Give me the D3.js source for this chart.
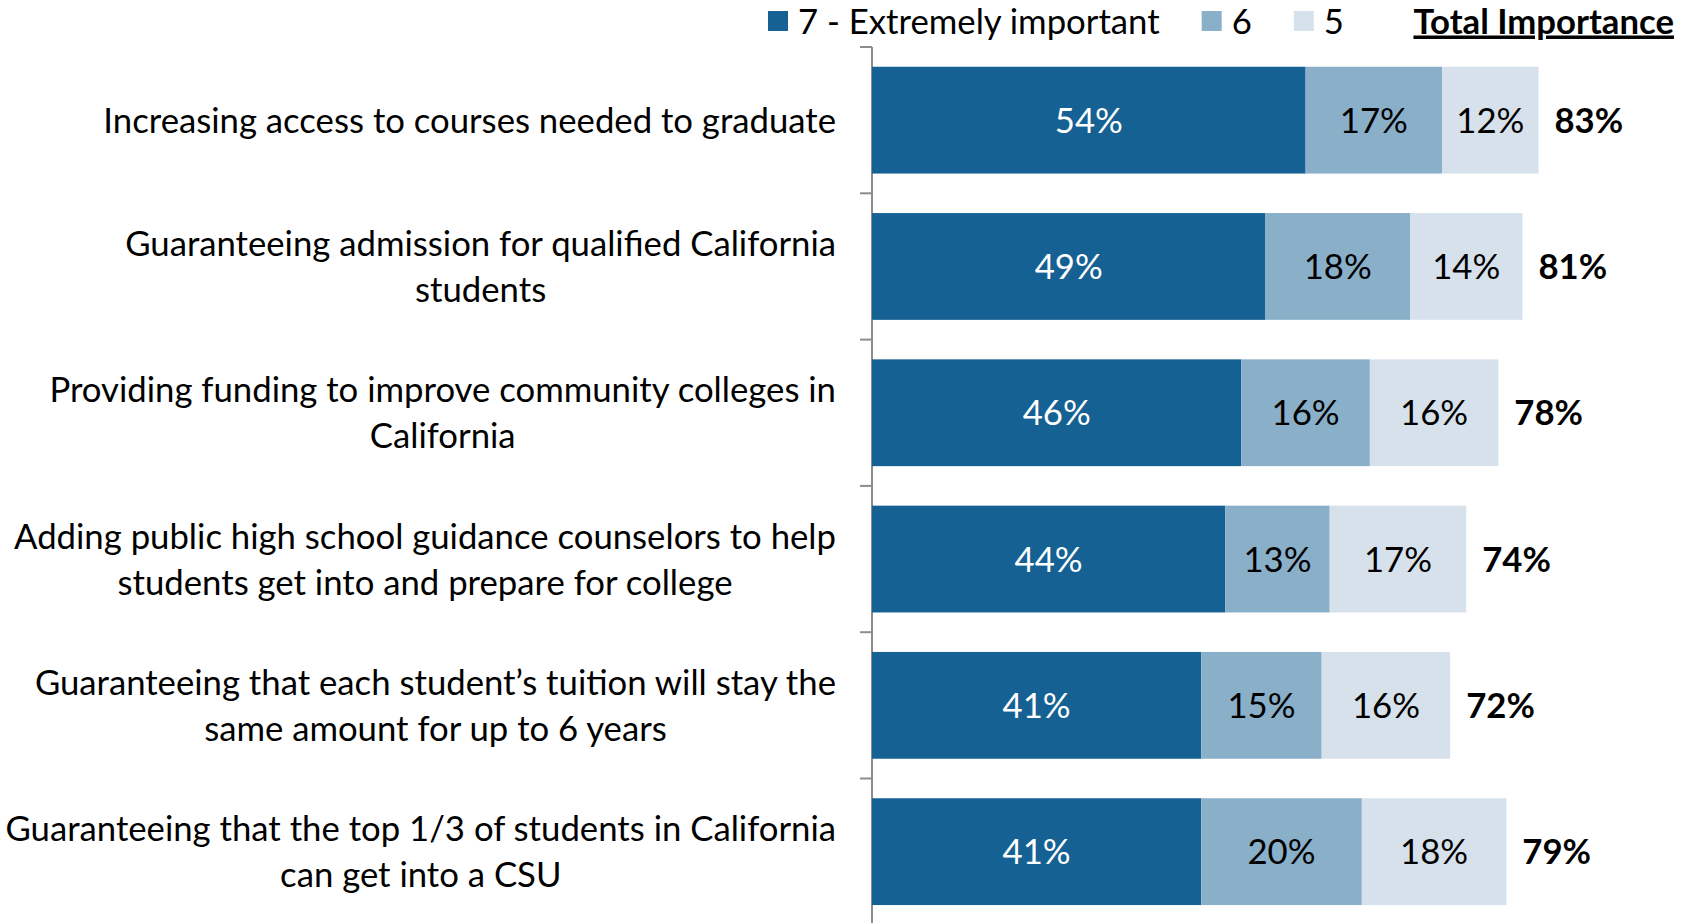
<!DOCTYPE html>
<html>
<head>
<meta charset="utf-8">
<script src="https://cdn.jsdelivr.net/npm/d3@7"></script>
<style>
  body { margin: 0; background: #fff; }
  text { font-family: Lato, "Open Sans", sans-serif; }
</style>
</head>
<body>
<div id="chart"></div>
<script>
// category labels, already broken into lines as in the original slide
var categories = [
    ["Increasing access to courses needed to graduate"],
    ["Guaranteeing admission for qualified California", "students"],
    ["Providing funding to improve community colleges in", "California"],
    ["Adding public high school guidance counselors to help", "students get into and prepare for college"],
    ["Guaranteeing that each student\u2019s tuition will stay the", "same amount for up to 6 years"],
    ["Guaranteeing that the top 1/3 of students in California", "can get into a CSU"]
];

var seriesNames = ["7 - Extremely important", "6", "5"];
var extremely = [54, 49, 46, 44, 41, 41];
var six = [17, 18, 16, 13, 15, 20];
var five = [12, 14, 16, 17, 16, 18];
var total = [83, 81, 78, 74, 72, 79];
var totalTitle = "Total Importance";

var colors = ["#156193", "#89afc9", "#d7e1eb"];
var textColors = ["#ffffff", "#000000", "#000000"];

var W = 1692, H = 923;

var svg = d3.select("#chart").append("svg")
        .attr("width", W)
        .attr("height", H);

/* fit font size so the first label has about the width of the original */
var probe = svg.append("text").attr("font-size", 40).text(categories[0][0]);
var fs = 40 * 733 / probe.node().getComputedTextLength();
probe.remove();

var rows = categories.map(function (c, i) {
    return {i: i, a: extremely[i], b: six[i], c: five[i], t: total[i]};
});

var stack = d3.stack().keys(["a", "b", "c"]);
var layers = stack(rows);

var x = d3.scaleLinear().domain([0, 100]).range([872, 1675]);
var y = d3.scaleBand().domain(d3.range(categories.length)).range([47, 47 + 6 * 146.3]).padding(0);
var barH = y.bandwidth() * 0.73;

/* axis line with ticks on the band edges */
var axis = svg.append("g");
axis.append("line")
        .attr("x1", x(0)).attr("x2", x(0))
        .attr("y1", y.range()[0]).attr("y2", H)
        .attr("stroke", "#8c8c8c").attr("stroke-width", 2);
axis.selectAll("line.tick")
        .data(y.domain())
        .enter().append("line")
        .attr("class", "tick")
        .attr("x1", x(0) - 12).attr("x2", x(0))
        .attr("y1", function (d) { return y(d); })
        .attr("y2", function (d) { return y(d); })
        .attr("stroke", "#8c8c8c").attr("stroke-width", 2);

/* bars */
var groups = svg.selectAll("g.layer")
        .data(layers)
        .enter().append("g")
        .attr("class", "layer");

groups.selectAll("rect")
        .data(function (d) { return d; })
        .enter().append("rect")
        .attr("x", function (d) { return x(d[0]); })
        .attr("width", function (d) { return x(d[1]) - x(d[0]); })
        .attr("y", function (d) { return y(d.data.i) + (y.bandwidth() - barH) / 2; })
        .attr("height", barH)
        .attr("fill", function (d, i, n) { return colors[d3.select(n[i].parentNode).datum().index]; });

groups.each(function (layer, k) {
    d3.select(this).selectAll("text")
            .data(layer)
            .enter().append("text")
            .attr("x", function (d) { return (x(d[0]) + x(d[1])) / 2; })
            .attr("y", function (d) { return y(d.data.i) + y.bandwidth() / 2; })
            .attr("dy", "0.36em")
            .attr("text-anchor", "middle")
            .attr("font-size", fs)
            .attr("fill", textColors[k])
            .text(function (d) { return (d[1] - d[0]) + "%"; });
});

/* totals */
svg.selectAll("text.total")
        .data(rows)
        .enter().append("text")
        .attr("class", "total")
        .attr("x", function (d) { return x(d.t) + 16; })
        .attr("y", function (d) { return y(d.i) + y.bandwidth() / 2; })
        .attr("dy", "0.36em")
        .attr("font-size", fs)
        .attr("font-weight", "bold")
        .text(function (d) { return d.t + "%"; });

/* category labels: block right aligned, lines centred in the block */
var lineH = 46;
var labelRight = 836;
categories.forEach(function (lines, i) {
    var g = svg.append("g");
    var cy = y(i) + y.bandwidth() / 2;
    var t = g.selectAll("text")
            .data(lines)
            .enter().append("text")
            .attr("font-size", fs)
            .attr("y", function (d, j) { return cy + (j - (lines.length - 1) / 2) * lineH; })
            .attr("dy", "0.36em")
            .attr("text-anchor", "middle")
            .text(function (d) { return d; });
    var maxW = d3.max(t.nodes(), function (n) { return n.getComputedTextLength(); });
    t.attr("x", labelRight - maxW / 2);
});

/* legend */
var legend = svg.append("g");
var lx = 768, ly = 21;
seriesNames.forEach(function (name, k) {
    legend.append("rect")
            .attr("x", lx).attr("y", ly - 10)
            .attr("width", 20).attr("height", 20)
            .attr("fill", colors[k]);
    var t = legend.append("text")
            .attr("x", lx + 30).attr("y", ly)
            .attr("dy", "0.36em")
            .attr("font-size", fs)
            .text(name);
    lx = lx + 30 + t.node().getComputedTextLength() + 42;
});
legend.append("text")
        .attr("x", 1674).attr("y", ly)
        .attr("dy", "0.36em")
        .attr("text-anchor", "end")
        .attr("font-size", fs)
        .attr("font-weight", "bold")
        .attr("text-decoration", "underline")
        .text(totalTitle);
</script>
</body>
</html>
